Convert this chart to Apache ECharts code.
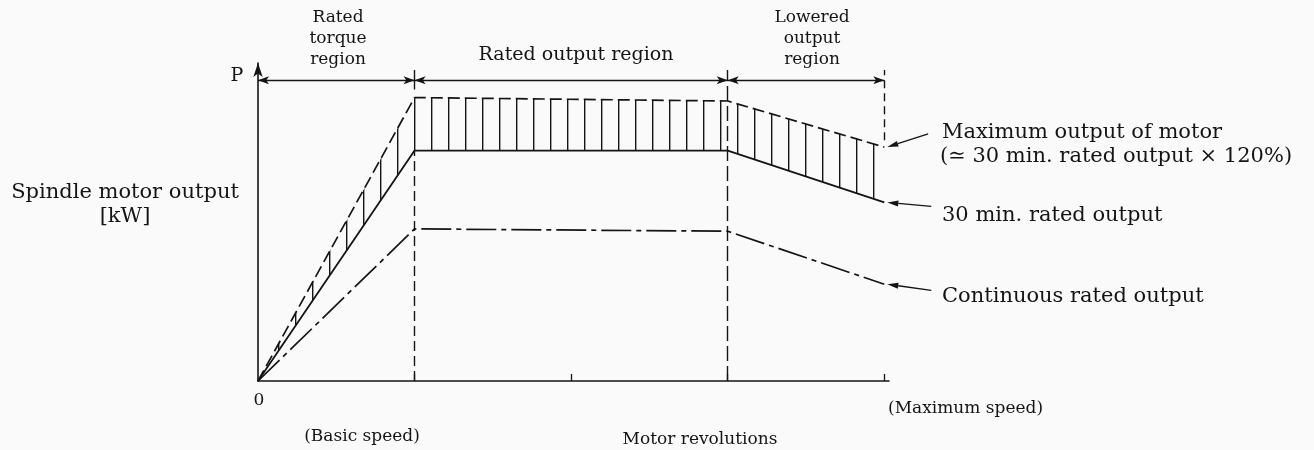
<!DOCTYPE html>
<html>
<head>
<meta charset="utf-8">
<script src="https://cdn.jsdelivr.net/npm/echarts@6/dist/echarts.min.js"></script>
<style>
  html, body { margin: 0; padding: 0; background: #fafafa; }
  #chart { width: 1314px; height: 450px; }
</style>
</head>
<body>
<div id="chart"></div>
<script>
// Motor speed in multiples of the basic speed (4 = maximum speed)
const speed = [0, 1, 3, 4];
// Spindle motor output, as % of the 30 min. rating
const maxOutput = [0, 123, 121.5, 101.5];
const rated30min = [0, 100, 100, 77.5];
const continuous = [0, 66, 65, 42];

// Region boundaries along the speed axis and the level of the region arrows
const regionBounds = [0, 1, 3, 4];
const regionLevel = 130.5;
const xTicks = [1, 2, 3, 4];

// Caption pointers: tail position [speed, output], the tip sits on the curve end
const pointerTails = [[4.28, 107.2], [4.3, 75.8], [4.3, 39.3]];
const pointerCurves = [maxOutput, rated30min, continuous];

const INK = '#141414';
const SERIF = '"DejaVu Serif", "Liberation Serif", serif';

// vertical hatching used between the 30 min. curve and the maximum curve
function hatchTile() {
  const c = document.createElement('canvas');
  c.width = 17; c.height = 8;
  const g = c.getContext('2d');
  g.fillStyle = INK;
  g.fillRect(6, 0, 1.4, 8);
  return c;
}
const hatchFill = { image: hatchTile(), repeat: 'repeat' };

const pts = arr => speed.map((s, i) => [s, arr[i]]);
const last = speed.length - 1;
const xEnd = speed[last];

const chart = echarts.init(document.getElementById('chart'), null, { renderer: 'canvas' });

// region arrows across the top
const regionArrows = [];
for (let i = 0; i < regionBounds.length - 1; i++) {
  regionArrows.push([
    { coord: [regionBounds[i], regionLevel] },
    { coord: [regionBounds[i + 1], regionLevel] }
  ]);
}

function renderHatch(params, api) {
  const upper = speed.map((s, i) => api.coord([s, maxOutput[i]]));
  const lower = speed.map((s, i) => api.coord([s, rated30min[i]])).reverse();
  return {
    type: 'polygon',
    shape: { points: upper.concat(lower) },
    style: { fill: hatchFill, stroke: null }
  };
}

function renderPointer(params, api) {
  const i = params.dataIndex;
  const tail = api.coord(pointerTails[i]);
  const curve = pointerCurves[i];
  const tipRaw = api.coord([xEnd, curve[last]]);
  const tip = [tipRaw[0] + 3, tipRaw[1]];
  const dx = tail[0] - tip[0], dy = tail[1] - tip[1];
  const len = Math.sqrt(dx * dx + dy * dy);
  const ux = dx / len, uy = dy / len;
  const head = 11, half = 3;
  const bx = tip[0] + ux * head, by = tip[1] + uy * head;
  return {
    type: 'group',
    children: [
      { type: 'line', shape: { x1: tail[0], y1: tail[1], x2: bx, y2: by },
        style: { stroke: INK, lineWidth: 1.3 } },
      { type: 'polygon',
        shape: { points: [tip, [bx - uy * half, by + ux * half], [bx + uy * half, by - ux * half]] },
        style: { fill: INK } }
    ]
  };
}

const option = {
  backgroundColor: '#fafafa',
  animation: false,
  grid: { left: 258, right: 425, top: 63, bottom: 69 },
  xAxis: {
    type: 'value', min: 0, max: 4.03,
    axisLine: { lineStyle: { color: INK, width: 1.6 } },
    axisTick: { show: true, inside: true, length: 7, customValues: xTicks,
                lineStyle: { color: INK, width: 1.3 } },
    axisLabel: { show: false },
    splitLine: { show: false }
  },
  yAxis: {
    type: 'value', min: 0, max: 138,
    axisLine: { show: true, symbol: ['none', 'arrow'], symbolSize: [7, 14],
                lineStyle: { color: INK, width: 1.6 } },
    axisTick: { show: false },
    axisLabel: { show: false },
    splitLine: { show: false }
  },
  series: [
    {
      name: 'hatch', type: 'custom', data: [[0, 0]], clip: false, silent: true,
      renderItem: renderHatch
    },
    {
      name: 'Maximum output of motor', type: 'line', data: pts(maxOutput),
      symbol: 'none', lineStyle: { color: INK, width: 1.7, type: [12, 5] },
      markLine: {
        silent: true, symbol: ['none', 'none'], label: { show: false },
        lineStyle: { color: INK, width: 1.4, type: 'solid' },
        data: [
          // basic speed
          [{ coord: [1, 0], lineStyle: { type: [10, 5] } }, { coord: [1, 100] }],
          [{ coord: [1, 126.5] }, { coord: [1, 135] }],
          // start of the lowered output region
          [{ coord: [3, 0], lineStyle: { type: [15, 5] } }, { coord: [3, 135] }],
          // maximum speed
          [{ coord: [4, 104.5], lineStyle: { type: [8, 5] } }, { coord: [4, 135] }]
        ]
      }
    },
    {
      name: '30 min. rated output', type: 'line', data: pts(rated30min),
      symbol: 'none', lineStyle: { color: INK, width: 1.8 },
      markLine: {
        silent: true, symbol: ['arrow', 'arrow'], symbolSize: [6, 11],
        label: { show: false },
        lineStyle: { color: INK, width: 1.4, type: 'solid' },
        data: regionArrows
      }
    },
    {
      name: 'Continuous rated output', type: 'line', data: pts(continuous),
      symbol: 'none', lineStyle: { color: INK, width: 1.7, type: [30, 5, 5, 5] }
    },
    {
      name: 'pointers', type: 'custom', clip: false, silent: true,
      data: pointerTails, renderItem: renderPointer
    }
  ],
  graphic: [
    { type: 'text', x: 338, y: 7, style: { text: 'Rated\ntorque\nregion', font: '17px ' + SERIF, fill: INK, align: 'center', verticalAlign: 'top', lineHeight: 21 } },
    { type: 'text', x: 576, y: 55, style: { text: 'Rated output region', font: '19px ' + SERIF, fill: INK, align: 'center', verticalAlign: 'middle' } },
    { type: 'text', x: 812, y: 7, style: { text: 'Lowered\noutput\nregion', font: '17px ' + SERIF, fill: INK, align: 'center', verticalAlign: 'top', lineHeight: 21 } },
    { type: 'text', x: 237, y: 76, style: { text: 'P', font: '19px ' + SERIF, fill: INK, align: 'center', verticalAlign: 'middle' } },
    { type: 'text', x: 125, y: 181, style: { text: 'Spindle motor output\n[kW]', font: '21px ' + SERIF, fill: INK, align: 'center', verticalAlign: 'top', lineHeight: 24 } },
    { type: 'text', x: 259, y: 401, style: { text: '0', font: '17px ' + SERIF, fill: INK, align: 'center', verticalAlign: 'middle' } },
    { type: 'text', x: 888, y: 409, style: { text: '(Maximum speed)', font: '17px ' + SERIF, fill: INK, align: 'left', verticalAlign: 'middle' } },
    { type: 'text', x: 362, y: 437, style: { text: '(Basic speed)', font: '17px ' + SERIF, fill: INK, align: 'center', verticalAlign: 'middle' } },
    { type: 'text', x: 700, y: 440, style: { text: 'Motor revolutions', font: '17px ' + SERIF, fill: INK, align: 'center', verticalAlign: 'middle' } },
    { type: 'text', x: 942, y: 133, style: { text: 'Maximum output of motor', font: '21px ' + SERIF, fill: INK, align: 'left', verticalAlign: 'middle' } },
    { type: 'text', x: 940, y: 157, style: { text: '(\u2243 30 min. rated output \u00d7 120%)', font: '21px ' + SERIF, fill: INK, align: 'left', verticalAlign: 'middle' } },
    { type: 'text', x: 942, y: 216, style: { text: '30 min. rated output', font: '21px ' + SERIF, fill: INK, align: 'left', verticalAlign: 'middle' } },
    { type: 'text', x: 942, y: 297, style: { text: 'Continuous rated output', font: '21px ' + SERIF, fill: INK, align: 'left', verticalAlign: 'middle' } }
  ]
};

chart.setOption(option);
</script>
</body>
</html>
